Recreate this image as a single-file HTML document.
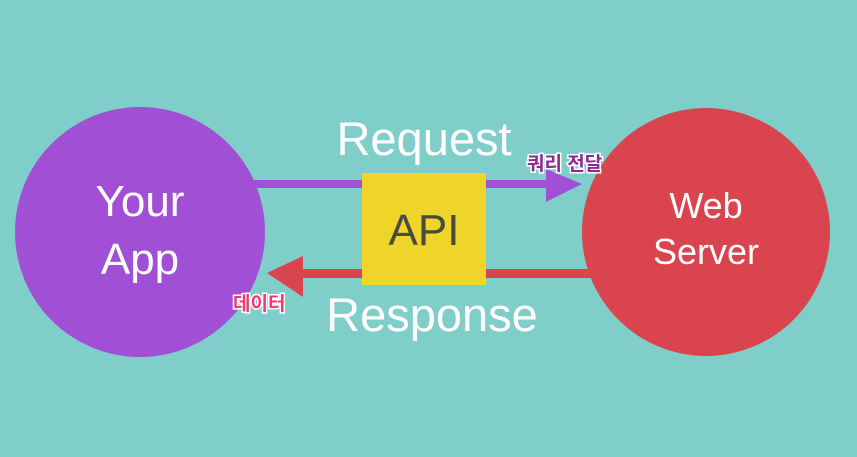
<!DOCTYPE html>
<html><head><meta charset="utf-8"><style>
body{margin:0;background:#80ceca;}
svg{display:block}
.t{font-family:"Liberation Sans",sans-serif;}
.k{font-family:"Liberation Sans","Noto Sans CJK KR",sans-serif;font-weight:bold;stroke:#fff;stroke-width:3;paint-order:stroke;}
</style></head><body>
<svg width="857" height="457" viewBox="0 0 857 457">
<rect width="857" height="457" fill="#80ceca"/>
<rect x="250" y="180" width="300" height="8" fill="#a150d6"/>
<polygon points="546,169 582,184 546,202" fill="#a150d6"/>
<rect x="295" y="269" width="300" height="9" fill="#d9444f"/>
<polygon points="303,256 267,273 303,297" fill="#d9444f"/>
<circle cx="140" cy="232" r="125" fill="#a150d6"/>
<circle cx="706" cy="232" r="124" fill="#d9444f"/>
<rect x="362" y="173" width="124" height="112" fill="#efd52a"/>
<text class="t" x="424" y="245" font-size="44" fill="#4a4a40" text-anchor="middle">API</text>
<text class="t" x="424" y="155" font-size="47" fill="#fff" text-anchor="middle">Request</text>
<text class="t" x="432" y="331" font-size="47" fill="#fff" text-anchor="middle">Response</text>
<text class="t" x="140" y="216" font-size="44" fill="#fff" text-anchor="middle">Your</text>
<text class="t" x="140" y="274" font-size="44" fill="#fff" text-anchor="middle">App</text>
<text class="t" x="706" y="218" font-size="36" fill="#fff" text-anchor="middle">Web</text>
<text class="t" x="706" y="264" font-size="36" fill="#fff" text-anchor="middle">Server</text>
<text class="k" x="527" y="170" font-size="19" fill="#8e2a8e">쿼리 전달</text>
<text class="k" x="233" y="310" font-size="19" fill="#ef3a73">데이터</text>
</svg>
</body></html>
